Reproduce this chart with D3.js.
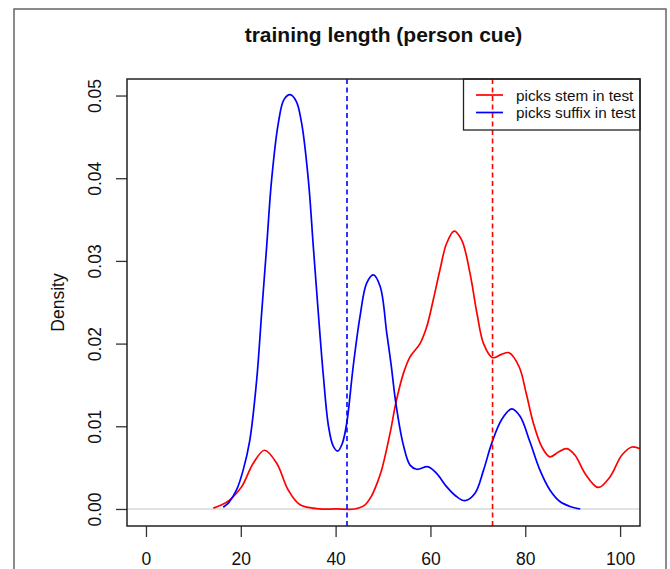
<!DOCTYPE html>
<html lang="en">
<head>
    <meta charset="utf-8">
    <title>training length (person cue)</title>
    <script src="https://d3js.org/d3.v7.min.js"></script>
</head>
<style type="text/css">
    body { margin: 0; background: #fff; }
    svg text { font-family: "Liberation Sans", Arial, Helvetica, sans-serif; fill: #111; }
    .axis path.domain { display: none; }
    .axis line { stroke: #333; stroke-width: 1.3; }
</style>
<body>
<script>
    // x values (training length) and densities
    var stemX = [14.2, 16.0, 17.7, 20.2, 22.6, 25.0, 27.6, 30.0, 32.5, 36.7, 40.0, 44.0, 46.0, 47.5, 49.0, 49.7,
                 51.5, 52.7, 54.3, 55.7, 57.8, 59.2, 60.6, 62.0, 63.4, 65.0, 66.6, 68.35, 69.8, 71.2, 73.1, 75.0,
                 76.6, 78.7, 80.2, 81.7, 83.5, 85.2, 87.0, 88.75, 90.5, 92.6, 95.4, 97.9, 100.35, 102.5, 104.2];
    var stemDensity = [0.0001, 0.0005, 0.0011, 0.0027, 0.0055, 0.0071, 0.0055, 0.0023, 0.0005, 0.0, 0.0, 0.0, 0.0004, 0.0015, 0.0035, 0.0047,
                       0.0092, 0.0128, 0.0164, 0.0184, 0.0200, 0.0220, 0.0253, 0.0289, 0.0321, 0.0336, 0.0325, 0.0285, 0.0237, 0.0200, 0.0183, 0.0187,
                       0.0189, 0.0172, 0.0140, 0.0104, 0.0075, 0.0063, 0.0069, 0.0073, 0.0065, 0.0043, 0.0026, 0.0039, 0.0065, 0.0075, 0.0073];

    var suffixX = [16.3, 17.5, 19.1, 20.5, 21.9, 23.35, 24.4, 25.45, 26.5, 27.9, 29.1, 30.4, 31.7, 32.85, 34.25, 35.3,
                   36.35, 37.4, 38.5, 39.5, 40.45, 41.4, 42.35, 43.7, 45.15, 46.55, 47.95, 49.4, 50.8, 51.7, 52.7, 54.3,
                   55.7, 57.1, 59.5, 61.3, 63.4, 65.5, 67.3, 69.4, 71.2, 72.9, 75.0, 77.15, 78.9, 81.0, 83.1, 85.2,
                   87.3, 89.45, 91.6];
    var suffixDensity = [0.0002, 0.0008, 0.0023, 0.0047, 0.0083, 0.0156, 0.0237, 0.0317, 0.0398, 0.0466, 0.0495, 0.0501, 0.0493, 0.0466, 0.0398, 0.0317,
                         0.0237, 0.0162, 0.0100, 0.0076, 0.0070, 0.0079, 0.0104, 0.0172, 0.0233, 0.0273, 0.0283, 0.0269, 0.0212, 0.0175, 0.0128, 0.0077,
                         0.0053, 0.0048, 0.0051, 0.0043, 0.0027, 0.0015, 0.0010, 0.0019, 0.0047, 0.0079, 0.0108, 0.0121, 0.0112, 0.0081, 0.0047, 0.0023,
                         0.0009, 0.0003, 0.0000];

    var meanStem = 73.1;   // red dashed line
    var meanSuffix = 42.4; // blue dashed line

    var xTicks = [0, 20, 40, 60, 80, 100];
    var yTicks = [0, 0.01, 0.02, 0.03, 0.04, 0.05];
    var yTickLabels = ["0.00", "0.01", "0.02", "0.03", "0.04", "0.05"];
    var seriesNames = ["picks stem in test", "picks suffix in test"];
    var seriesColors = ["#ff0000", "#0000ff"];

    var width = 670, height = 569;
    var boxL = 127, boxR = 640, boxT = 79, boxB = 526; // plot box

    var svg = d3.select("body").append("svg")
        .attr("width", width)
        .attr("height", height);

    // outer frame of the figure
    svg.append("rect")
        .attr("x", 14).attr("y", 9)
        .attr("width", 652).attr("height", 620)
        .attr("fill", "none")
        .attr("stroke", "#666")
        .attr("stroke-width", 1.5);

    var x = d3.scaleLinear().domain([-4.0, 104.2]).range([boxL, boxR]);
    var y = d3.scaleLinear().domain([-0.00206, 0.052]).range([boxB, boxT]);

    svg.append("defs").append("clipPath").attr("id", "plotclip")
        .append("rect")
        .attr("x", boxL).attr("y", boxT)
        .attr("width", boxR - boxL).attr("height", boxB - boxT);

    // title
    svg.append("text")
        .attr("x", (boxL + boxR) / 2)
        .attr("y", 42)
        .attr("text-anchor", "middle")
        .style("font-size", "21px")
        .style("font-weight", "bold")
        .text("training length (person cue)");

    // axes
    var xAxis = svg.append("g")
        .attr("class", "axis")
        .attr("transform", "translate(0," + boxB + ")")
        .call(d3.axisBottom(x).tickValues(xTicks).tickSize(11).tickSizeOuter(0).tickPadding(16));
    xAxis.selectAll("text")
        .style("font-size", "17.5px")
        .attr("fill", "#111");

    var yAxis = svg.append("g")
        .attr("class", "axis")
        .attr("transform", "translate(" + boxL + ",0)")
        .call(d3.axisLeft(y).tickValues(yTicks).tickSize(11).tickSizeOuter(0)
            .tickFormat(function(d, i){ return yTickLabels[i]; }));
    yAxis.selectAll("text")
        .attr("x", null).attr("dy", null)
        .attr("transform", "translate(-32,0) rotate(-90)")
        .attr("text-anchor", "middle")
        .attr("dominant-baseline", "central")
        .attr("fill", "#111")
        .style("font-size", "17.5px");

    svg.append("text")
        .attr("transform", "translate(58," + ((boxT + boxB) / 2) + ") rotate(-90)")
        .attr("text-anchor", "middle")
        .attr("dominant-baseline", "central")
        .style("font-size", "17.5px")
        .text("Density");

    var plot = svg.append("g").attr("clip-path", "url(#plotclip)");

    // zero line
    plot.append("line")
        .attr("x1", boxL).attr("x2", boxR)
        .attr("y1", y(0)).attr("y2", y(0))
        .attr("stroke", "#d8d8d8")
        .attr("stroke-width", 1.5);

    var line = d3.line()
        .x(function(d){ return x(d[0]); })
        .y(function(d){ return y(d[1]); })
        .curve(d3.curveCatmullRom.alpha(0.5));

    var series = [d3.zip(stemX, stemDensity), d3.zip(suffixX, suffixDensity)];

    plot.selectAll("path.density")
        .data(series)
        .enter()
        .append("path")
        .attr("class", "density")
        .attr("d", line)
        .attr("fill", "none")
        .attr("stroke", function(d, i){ return seriesColors[i]; })
        .attr("stroke-width", 1.7);

    // legend (no fill, dashed line passes through)
    var legend = svg.append("g");
    legend.append("rect")
        .attr("x", 463.5).attr("y", boxT)
        .attr("width", boxR - 463.5).attr("height", 51)
        .attr("fill", "none")
        .attr("stroke", "#222")
        .attr("stroke-width", 1.3);
    var item = legend.selectAll("g.item")
        .data(seriesNames)
        .enter()
        .append("g")
        .attr("transform", function(d, i){ return "translate(0," + (95 + i * 17.5) + ")"; });
    item.append("line")
        .attr("x1", 476).attr("x2", 503)
        .attr("stroke", function(d, i){ return seriesColors[i]; })
        .attr("stroke-width", 1.7);
    item.append("text")
        .attr("x", 516)
        .attr("dominant-baseline", "central")
        .style("font-size", "15.3px")
        .text(function(d){ return d; });

    // mean lines
    plot.selectAll("line.mean")
        .data([meanSuffix, meanStem])
        .enter()
        .append("line")
        .attr("class", "mean")
        .attr("x1", function(d){ return x(d); })
        .attr("x2", function(d){ return x(d); })
        .attr("y1", boxT).attr("y2", boxB)
        .attr("stroke", function(d, i){ return seriesColors[1 - i]; })
        .attr("stroke-width", 1.6)
        .attr("stroke-dasharray", "5,3.5");

    // plot box
    svg.append("rect")
        .attr("x", boxL).attr("y", boxT)
        .attr("width", boxR - boxL).attr("height", boxB - boxT)
        .attr("fill", "none")
        .attr("stroke", "#222")
        .attr("stroke-width", 1.5);
</script>
</body>
</html>
